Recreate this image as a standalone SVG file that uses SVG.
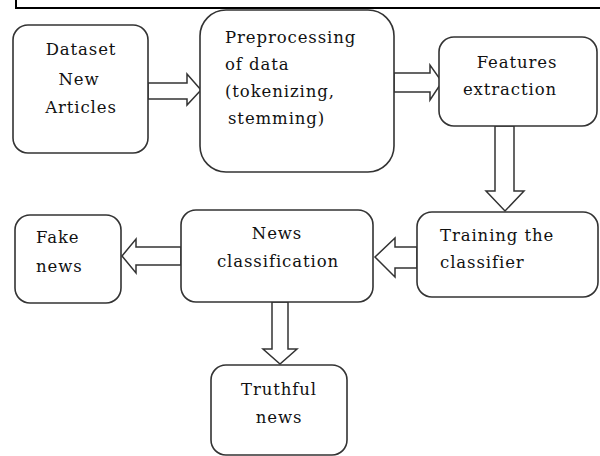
<svg xmlns="http://www.w3.org/2000/svg" width="600" height="456" viewBox="0 0 600 456">
<style>
.box{fill:#fff;stroke:#333;stroke-width:1.6}
.arr{fill:#fff;stroke:#333;stroke-width:1.5;stroke-linejoin:miter}
.t{font-family:"DejaVu Serif","Liberation Serif",serif;font-size:16.5px;letter-spacing:0.9px;fill:#111}
.c{text-anchor:middle}
.frame{stroke:#000;stroke-width:2;fill:none}
</style>
<rect width="600" height="456" fill="#fff"/>
<g id="frame">
<line class="frame" x1="15" y1="8" x2="600" y2="8"/>
<line class="frame" x1="16" y1="0" x2="16" y2="8"/>
</g>
<g id="connectors">
<polygon class="arr" points="148,83 187,83 187,74 201,90 187,105 187,99 148,99"/>
<polygon class="arr" points="394,73 430,73 430,65 442,82 430,100 430,92 394,92"/>
<polygon class="arr" points="495,126 514,126 514,191 524,191 505,211 486,191 495,191"/>
<polygon class="arr" points="417,247 395,247 395,238 375,257 395,277 395,268 417,268"/>
<polygon class="arr" points="181,247 136,247 136,239 122,256 136,273 136,265 181,265"/>
<polygon class="arr" points="272,302 288,302 288,349 297,349 280,364 263,349 272,349"/>
</g>
<g id="dataset">
<rect class="box" x="13" y="25" width="135" height="128" rx="15"/>
<text class="t c" x="81" y="55">Dataset</text>
<text class="t c" x="79" y="85">New</text>
<text class="t c" x="81" y="113">Articles</text>
</g>
<g id="preprocessing">
<rect class="box" x="200" y="10" width="194" height="162" rx="26"/>
<text class="t" x="225" y="43">Preprocessing</text>
<text class="t" x="225" y="70">of data</text>
<text class="t" x="225" y="97">(tokenizing,</text>
<text class="t" x="228" y="124">stemming)</text>
</g>
<g id="features">
<rect class="box" x="439" y="37" width="158" height="89" rx="15"/>
<text class="t c" x="517" y="68">Features</text>
<text class="t c" x="510" y="95">extraction</text>
</g>
<g id="training">
<rect class="box" x="417" y="212" width="181" height="85" rx="15"/>
<text class="t" x="440" y="241">Training the</text>
<text class="t" x="440" y="268">classifier</text>
</g>
<g id="news-classification">
<rect class="box" x="181" y="210" width="192" height="92" rx="15"/>
<text class="t c" x="277" y="239">News</text>
<text class="t c" x="278" y="267">classification</text>
</g>
<g id="fake-news">
<rect class="box" x="15" y="215" width="106" height="88" rx="15"/>
<text class="t" x="36" y="243">Fake</text>
<text class="t" x="36" y="272">news</text>
</g>
<g id="truthful-news">
<rect class="box" x="211" y="365" width="136" height="90" rx="15"/>
<text class="t c" x="279" y="395">Truthful</text>
<text class="t c" x="279" y="423">news</text>
</g>
</svg>
